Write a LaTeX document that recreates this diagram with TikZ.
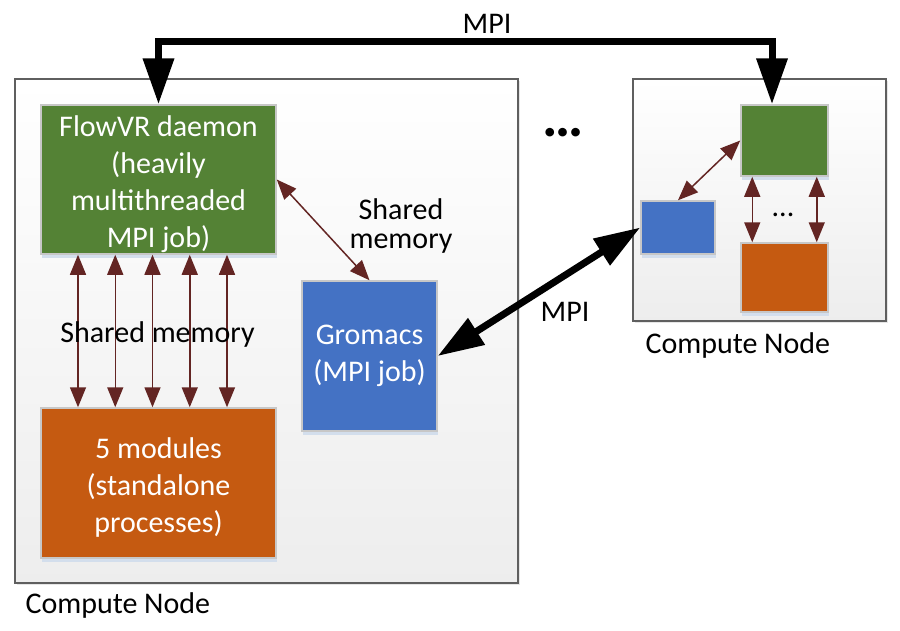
\documentclass[tikz,border=0pt]{standalone}
\usepackage{fontspec}
\setmainfont{Carlito}
\usepackage{xcolor}
\usetikzlibrary{arrows.meta,shadows}
\definecolor{verde}{HTML}{548235}
\definecolor{blu}{HTML}{4472C4}
\definecolor{arancio}{HTML}{C55A11}
\definecolor{marrone}{HTML}{632523}
\definecolor{bordo}{HTML}{5F5F5F}
\definecolor{ombra}{HTML}{D3DEEC}

\tikzset{
  nodo/.style={draw=bordo, line width=1.5pt, top color=white, bottom color=black!7,
    drop shadow={opacity=0.2, shadow xshift=2pt, shadow yshift=-2pt}, inner sep=0pt},
  blocco/.style={draw=black!22, line width=1.5pt, text=white, align=center, inner sep=0pt,
    drop shadow={fill=ombra, opacity=1, shadow xshift=1pt, shadow yshift=-4pt}},
  shm/.style={{Triangle[width=16pt,length=20pt]}-{Triangle[width=16pt,length=20pt]},
    draw=marrone, line width=1.5pt},
  mpi/.style={{Triangle[width=30pt,length=46pt]}-{Triangle[width=30pt,length=46pt]},
    line width=7pt, line join=miter}
}

\begin{document}
\begin{tikzpicture}[x=1pt, y=-1pt, font=\fontsize{30}{37}\selectfont]
        \useasboundingbox (0,0) rectangle (900,630);

        % Nodo di calcolo (sinistra)
        \node[nodo, minimum width=503pt, minimum height=504pt] (nodoA) at (266.5,331) {};
        \node[blocco, fill=verde, minimum width=235pt, minimum height=149pt] (flowvr) at (158.5,179.5)
            {\rule{0pt}{30pt}FlowVR daemon\\(heavily\\multithreaded\\MPI job)};
        \node[blocco, fill=arancio, minimum width=235pt, minimum height=150pt] (moduli) at (158.5,483)
            {\rule{0pt}{30pt}5 modules\\(standalone\\processes)};
        \node[blocco, fill=blu, minimum width=135pt, minimum height=150pt] (gromacs) at (369.5,356)
            {Gromacs\\(MPI job)};

        % Nodo di calcolo (destra)
        \node[nodo, minimum width=253pt, minimum height=242pt] (nodoB) at (759.5,200) {};
        \node[blocco, fill=verde, minimum width=87pt, minimum height=71pt] (rverde) at (784.5,140.5) {};
        \node[blocco, fill=blu, minimum width=74pt, minimum height=53pt] (rblu) at (678,227.5) {};
        \node[blocco, fill=arancio, minimum width=87pt, minimum height=69pt] (rarancio) at (784.5,277.5) {};

        % Memoria condivisa
        \foreach \x in {78,115.25,152.5,189.75,227}
            \draw[shm] (\x,0 |- flowvr.south) -- (\x,0 |- moduli.north);
        \draw[shm] (flowvr.east) -- (gromacs.north);
        \draw[shm] (rverde.west) -- (rblu.north);
        \draw[shm] ([xshift=12pt]rverde.south west) -- ([xshift=12pt]rarancio.north west);
        \draw[shm] ([xshift=-12pt]rverde.south east) -- ([xshift=-12pt]rarancio.north east);

        % Collegamenti MPI
        \draw[mpi] (gromacs.east) -- (rblu.west);
        \draw[mpi] (flowvr.north) -- ++(0,-63) -| ([xshift=-12.5pt]rverde.north);

        % Annotazioni
        \node[anchor=base] (mpiA) at (487,33) {MPI};
        \node[anchor=base] (mpiB) at (565,321) {MPI};
        \node[anchor=base] (shmA) at (157.5,342) {Shared memory};
        \node[align=center] (shmB) at (401,226) {Shared\\[-8pt]memory};
        \node[anchor=base west] (etichettaA) at (22,613) {Compute Node};
        \node[anchor=base west] (etichettaB) at (642,353) {Compute Node};
        \node (puntiA) at (563,133) {\fontsize{58}{58}\selectfont\bfseries …};
        \node (puntiB) at (783,215) {...};
    \end{tikzpicture}
\end{document}
